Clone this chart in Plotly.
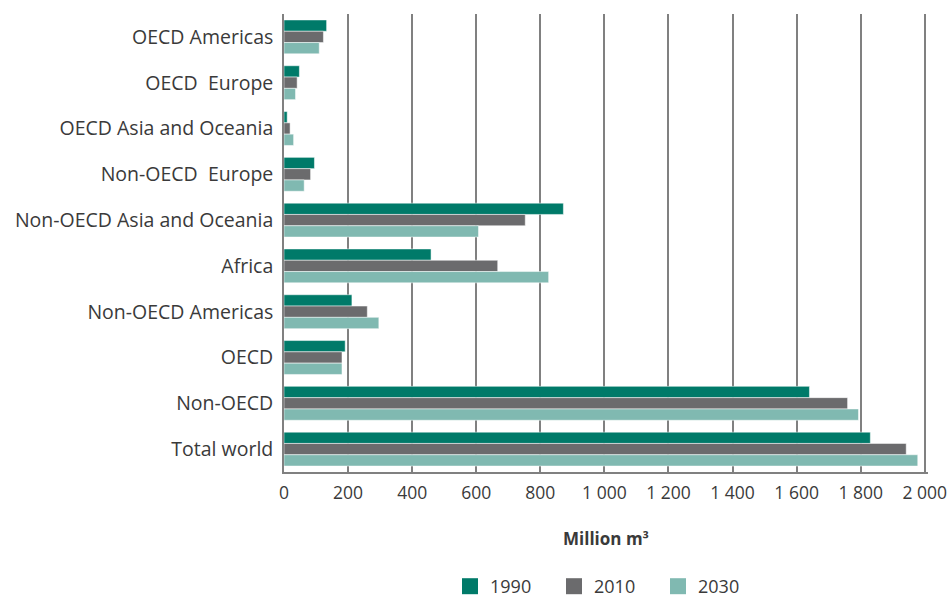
import plotly.graph_objects as go

categories = ["OECD Americas", "OECD  Europe", "OECD Asia and Oceania", "Non-OECD  Europe",
              "Non-OECD Asia and Oceania", "Africa", "Non-OECD Americas", "OECD", "Non-OECD", "Total world"]
v1990 = [133, 48, 10, 95, 872, 459, 212, 191, 1640, 1830]
v2010 = [123, 41, 19, 83, 753, 667, 260, 181, 1759, 1942]
v2030 = [110, 36, 30, 63, 607, 826, 296, 181, 1793, 1978]
tick_vals = [0, 200, 400, 600, 800, 1000, 1200, 1400, 1600, 1800, 2000]
tick_text = ["0", "200", "400", "600", "800", "1 000", "1 200", "1 400", "1 600", "1 800", "2 000"]

series = [("1990", v1990, "#007a69"), ("2010", v2010, "#6b6b6d"), ("2030", v2030, "#80b9b1")]

fig = go.Figure()
for name, vals, col in series:
    fig.add_trace(go.Bar(y=categories, x=vals, name=name, orientation="h", showlegend=False,
                         marker=dict(color=col, line=dict(width=0.5, color="white"))))
# legend proxies (larger square swatches)
for name, vals, col in series:
    fig.add_trace(go.Scatter(x=[None], y=[None], mode="markers", name=name,
                             marker=dict(symbol="square", size=16, color=col), showlegend=True))

font = "Open Sans, Noto Sans, sans-serif"
fig.update_layout(
    width=947, height=597,
    margin=dict(l=284, r=19, t=14, b=125, autoexpand=False),
    barmode="group", bargap=0.26, bargroupgap=0,
    plot_bgcolor="white", paper_bgcolor="white",
    font=dict(family=font, size=18, color="#3a3a3a"),
    showlegend=True,
    legend=dict(orientation="h", x=0.5, xanchor="center", y=-0.25, yanchor="middle",
                font=dict(size=18, color="#3a3a3a"), itemwidth=30, traceorder="normal",
                entrywidth=59, entrywidthmode="pixels"),
    xaxis=dict(range=[0, 2010], tickvals=tick_vals, ticktext=tick_text,
               showgrid=True, gridcolor="#808080", gridwidth=1.5,
               showline=True, linecolor="#808080", linewidth=1.5,
               ticks="", zeroline=False, tickfont=dict(size=17.5), ticklabelstandoff=4,
               ticklabeloverflow="allow",
               title=dict(text="<b>Million m³</b>", font=dict(size=17, color="#3a3a3a"), standoff=30)),
    yaxis=dict(autorange="reversed", showline=True, linecolor="#808080", linewidth=1.5,
               ticks="", showgrid=False, ticksuffix=" ", tickfont=dict(size=19.5)),
)
fig.write_html("out.html")
